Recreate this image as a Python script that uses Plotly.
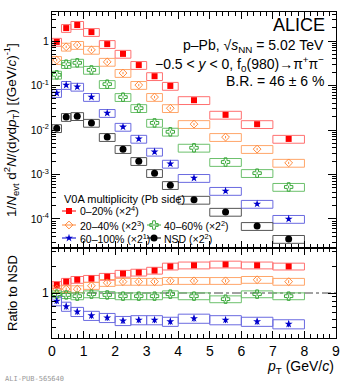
import plotly.graph_objects as go

W, H = 347, 385
FONT = "Liberation Sans"

# ---------------- data ----------------
bin_lo = [0.0, 0.3, 0.6, 1.0, 1.5, 2.0, 2.5, 3.0, 3.5, 4.0, 5.0, 6.0, 7.0]
bin_hi = [0.3, 0.6, 1.0, 1.5, 2.0, 2.5, 3.0, 3.5, 4.0, 5.0, 6.0, 7.0, 8.0]
pt = [(a + b) / 2 for a, b in zip(bin_lo, bin_hi)]

series_names = ["0–20% (×2<sup>4</sup>)", "20–40% (×2<sup>3</sup>)", "40–60% (×2<sup>2</sup>)",
                "60–100% (×2<sup>1</sup>)", "NSD (×2<sup>2</sup>)"]
scales = [16, 8, 4, 2, 4]

yield_0_20 = [0.0597, 0.122, 0.143, 0.0991, 0.0532, 0.0321, 0.0180, 0.0101, 0.00611,
              0.00292, 0.00137, 8.43e-4, 3.94e-4]
yield_20_40 = [0.0465, 0.0927, 0.1016, 0.0789, 0.0424, 0.0238, 0.0128, 0.00687, 0.00386,
               0.00169, 8.65e-4, 4.65e-4, 2.28e-4]
yield_40_60 = [0.0435, 0.0755, 0.0809, 0.0560, 0.0268, 0.0137, 0.00773, 0.00361, 0.00228,
               9.95e-4, 4.76e-4, 2.68e-4, 1.31e-4]
yield_60_100 = [0.0338, 0.0512, 0.0467, 0.0275, 0.0120, 0.00587, 0.00316, 0.00162, 8.69e-4,
                4.16e-4, 2.13e-4, 1.09e-4, 5.0e-5]
yield_nsd = [2.74e-3, 4.88e-3, 5.11e-3, 3.61e-3, 1.73e-3, 9.29e-4, 4.99e-4, 2.68e-4, 1.44e-4,
             6.73e-5, 3.61e-5, 1.73e-5, 8.87e-6]
yields = [yield_0_20, yield_20_40, yield_40_60, yield_60_100, yield_nsd]

stat_rel = [0.05, 0.06, 0.07, 0.10, 0.04]
sys_rel = [0.20, 0.20, 0.20, 0.20, 0.20]

ratio_0_20 = [1.24, 1.35, 1.42, 1.46, 1.54, 1.67, 1.72, 1.81, 2.02, 2.08, 2.13, 2.08, 2.02]
ratio_20_40 = [1.11, 1.11, 1.11, 1.21, 1.31, 1.35, 1.35, 1.35, 1.38, 1.38, 1.38, 1.42, 1.35]
ratio_40_60 = [0.97, 0.95, 0.92, 0.97, 0.95, 0.92, 0.92, 0.92, 0.97, 0.92, 0.85, 0.97, 0.92]
ratio_60_100 = [0.81, 0.70, 0.61, 0.55, 0.52, 0.48, 0.49, 0.49, 0.47, 0.51, 0.49, 0.47, 0.44]
ratios = [ratio_0_20, ratio_20_40, ratio_40_60, ratio_60_100]
ratio_sys_rel = [0.09, 0.09, 0.09, 0.12]
ratio_stat_rel = [0.04, 0.04, 0.05, 0.08]

# ---------------- styles ----------------
mcol = ["#ff0000", "#ff8a3d", "#3aa83a", "#0000cc", "#000000"]
bcol = ["#ff7070", "#ffa66a", "#6cc06c", "#6a6ae0", "#555555"]
msym = ["square", "diamond-open", "cross-open", "star", "circle"]
msize = [6, 6, 7, 6, 7]

fig = go.Figure()


def box_trace(vals, rel, color, xa, ya):
    xs, ys = [], []
    for lo, hi, v in zip(bin_lo, bin_hi, vals):
        y0, y1 = v * (1 - rel), v * (1 + rel)
        xs += [lo, hi, hi, lo, lo, None]
        ys += [y0, y0, y1, y1, y0, None]
    return go.Scatter(x=xs, y=ys, mode="lines", line=dict(color=color, width=1),
                      xaxis=xa, yaxis=ya, showlegend=False, hoverinfo="skip")


# top panel
for i, vals in enumerate(yields):
    v = [a * scales[i] for a in vals]
    fig.add_trace(box_trace(v, sys_rel[i], bcol[i], "x", "y"))
for i, vals in enumerate(yields):
    v = [a * scales[i] for a in vals]
    fig.add_trace(go.Scatter(
        x=pt, y=v, mode="markers", xaxis="x", yaxis="y", showlegend=False,
        marker=dict(symbol=msym[i], size=msize[i], color=mcol[i],
                    line=dict(color=mcol[i], width=1 if i in (1, 2) else 0)),
        error_y=dict(type="data", array=[a * stat_rel[i] for a in v], color=mcol[i],
                     thickness=1, width=0)))

# ratio panel
fig.add_trace(go.Scatter(x=[0, 9], y=[1, 1], mode="lines", xaxis="x2", yaxis="y2",
                         line=dict(color="#444444", width=1, dash="dashdot"),
                         showlegend=False, hoverinfo="skip"))
for i, vals in enumerate(ratios):
    fig.add_trace(box_trace(vals, ratio_sys_rel[i], bcol[i], "x2", "y2"))
for i, vals in enumerate(ratios):
    fig.add_trace(go.Scatter(
        x=pt, y=vals, mode="markers", xaxis="x2", yaxis="y2", showlegend=False,
        marker=dict(symbol=msym[i], size=msize[i], color=mcol[i],
                    line=dict(color=mcol[i], width=1 if i in (1, 2) else 0)),
        error_y=dict(type="data", array=[a * ratio_stat_rel[i] for a in vals], color=mcol[i],
                     thickness=1, width=0)))

# legend keys on a pixel-space overlay axis
leg_pos = [(69, 211), (69, 225), (154, 225), (69, 238), (154, 238)]
for i, (lx, ly) in enumerate(leg_pos):
    fig.add_trace(go.Scatter(x=[lx - 7, lx + 7], y=[ly, ly], mode="lines", xaxis="x3", yaxis="y3",
                             line=dict(color=mcol[i], width=1), showlegend=False, hoverinfo="skip"))
    fig.add_trace(go.Scatter(x=[lx], y=[ly], mode="markers", xaxis="x3", yaxis="y3",
                             marker=dict(symbol=msym[i], size=msize[i], color=mcol[i],
                                         line=dict(color=mcol[i], width=1 if i in (1, 2) else 0)),
                             showlegend=False, hoverinfo="skip"))


def px(x):
    return x / W


def py(y):
    return 1 - y / H


ann = []


def text(x, y, s, size, xanchor="left", yanchor="middle", angle=0, color="black", family=FONT):
    ann.append(dict(x=px(x), y=py(y), xref="paper", yref="paper", text=s, showarrow=False,
                    xanchor=xanchor, yanchor=yanchor, textangle=angle,
                    font=dict(size=size, color=color, family=family)))


text(327, 25, "ALICE", 18, xanchor="right")
text(326, 46, "p–Pb, √<i>s</i><sub>NN</sub> = 5.02 TeV", 14, xanchor="right")
text(326, 64, "−0.5 < <i>y</i> < 0, f<sub>0</sub>(980)→π<sup>+</sup>π<sup>−</sup>", 14, xanchor="right")
text(326, 81, "B.R. = 46 ± 6 %", 14, xanchor="right")

text(62, 199, "V0A multiplicity (Pb side)", 11)
lab_x = [78, 78, 162, 78, 162]
for i, (lx, ly) in enumerate(leg_pos):
    text(lab_x[i], ly, series_names[i], 10.5)

text(11, 130, "1/<i>N</i><sub>evt</sub> d<sup>2</sup><i>N</i>/(d<i>y</i>d<i>p</i><sub>T</sub>) [(GeV/<i>c</i>)<sup>-1</sup>]",
     13.5, xanchor="center", angle=-90)
text(12, 293, "Ratio to NSD", 13, xanchor="center", angle=-90)
text(336, 367, "<i>p</i><sub>T</sub> (GeV/<i>c</i>)", 14, xanchor="right")
text(3, 379, "ALI-PUB-565640", 7, color="#999999", family="DejaVu Sans Mono")

xdom = [52 / W, 336 / W]
common = dict(showline=True, linecolor="black", linewidth=1, mirror="allticks", ticks="inside",
              showgrid=False, zeroline=False, tickcolor="black", automargin=False)

minor_top = [m * 10 ** e for e in range(-5, 1) for m in range(2, 10)]
minor_ratio = [0.3, 0.4, 0.5, 0.6, 0.7, 0.8, 0.9, 2, 3]

fig.update_layout(
    width=W, height=H, margin=dict(l=0, r=0, t=0, b=0, autoexpand=False),
    paper_bgcolor="white", plot_bgcolor="rgba(0,0,0,0)",
    font=dict(family=FONT, color="black"),
    annotations=ann,
    xaxis=dict(domain=xdom, range=[0, 9], anchor="y", showticklabels=False, dtick=1, tick0=0,
               ticklen=7, minor=dict(ticks="inside", ticklen=4, dtick=0.2, tick0=0, tickcolor="black"),
               **common),
    yaxis=dict(domain=[1 - 248 / H, 1 - 12 / H], type="log", range=[-4.652, 0.652], anchor="x",
               tickvals=[1e-4, 1e-3, 1e-2, 1e-1, 1],
               ticktext=["10<sup>-4</sup>", "10<sup>-3</sup>", "10<sup>-2</sup>", "10<sup>-1</sup>", "1"],
               tickfont=dict(size=10.5), ticklen=8,
               minor=dict(ticks="inside", ticklen=4, tickvals=minor_top, tickcolor="black"),
               **common),
    xaxis2=dict(domain=xdom, range=[0, 9], anchor="y2", dtick=1, tick0=0, tickfont=dict(size=14),
                ticklen=7, minor=dict(ticks="inside", ticklen=4, dtick=0.2, tick0=0, tickcolor="black"),
                **common),
    yaxis2=dict(domain=[1 - 338 / H, 1 - 248 / H], type="log", range=[-0.517, 0.517], anchor="x2",
                tickvals=[1], ticktext=["1"], tickfont=dict(size=12), ticklen=8,
                minor=dict(ticks="inside", ticklen=4, tickvals=minor_ratio, tickcolor="black"),
                **common),
    xaxis3=dict(domain=[0, 1], range=[0, W], visible=False, anchor="y3", fixedrange=True,
                automargin=False),
    yaxis3=dict(domain=[0, 1], range=[H, 0], visible=False, anchor="x3", fixedrange=True,
                automargin=False),
)

fig.write_html("out.html", config={"displayModeBar": False},
               post_script="document.body.style.margin='0px';document.body.style.overflow='hidden';")
